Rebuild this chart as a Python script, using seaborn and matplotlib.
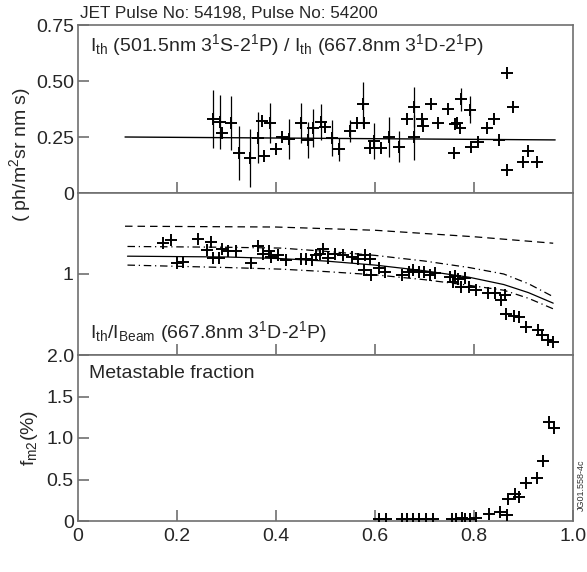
import matplotlib
matplotlib.use("Agg")
import matplotlib.pyplot as plt
import seaborn as sns
import numpy as np

# ---- dados ----
# painel superior: razao de intensidades
razao_x = [0.272, 0.287, 0.291, 0.309, 0.325, 0.347, 0.363, 0.371, 0.376, 0.388,
           0.399, 0.412, 0.427, 0.450, 0.465, 0.475, 0.490, 0.499, 0.514, 0.528,
           0.549, 0.563, 0.575, 0.578, 0.590, 0.598, 0.613, 0.629, 0.649, 0.665,
           0.679, 0.679, 0.694, 0.696, 0.714, 0.728, 0.748, 0.760, 0.762, 0.765,
           0.773, 0.772, 0.792, 0.793, 0.809, 0.827, 0.840, 0.851, 0.866, 0.867,
           0.878, 0.898, 0.910, 0.927]
razao_y = [0.330, 0.318, 0.269, 0.314, 0.180, 0.155, 0.247, 0.323, 0.165, 0.311,
           0.195, 0.251, 0.241, 0.314, 0.237, 0.289, 0.318, 0.293, 0.244, 0.195,
           0.278, 0.311, 0.397, 0.311, 0.199, 0.232, 0.199, 0.249, 0.207, 0.329,
           0.385, 0.249, 0.329, 0.299, 0.397, 0.314, 0.374, 0.180, 0.308, 0.311,
           0.418, 0.289, 0.371, 0.207, 0.229, 0.289, 0.329, 0.237, 0.103, 0.534,
           0.383, 0.140, 0.188, 0.140]
razao_err = [0.13, 0.12, 0.0, 0.12, 0.12, 0.13, 0.115, 0.0, 0.0, 0.09,
             0.0, 0.0, 0.09, 0.09, 0.08, 0.085, 0.08, 0.0, 0.08, 0.05,
             0.05, 0.0, 0.10, 0.0, 0.0, 0.08, 0.0, 0.09, 0.07, 0.0,
             0.09, 0.10, 0.0, 0.0, 0.0, 0.0, 0.0, 0.0, 0.0, 0.0,
             0.05, 0.0, 0.06, 0.0, 0.0, 0.0, 0.0, 0.0, 0.0, 0.0,
             0.0, 0.0, 0.0, 0.0]
ajuste_x = [0.095, 0.964]
ajuste_y = [0.250, 0.237]

# painel do meio: I_th / I_Beam
beam_x = [0.171, 0.187, 0.199, 0.213, 0.243, 0.260, 0.269, 0.273, 0.285, 0.290,
          0.304, 0.319, 0.349, 0.364, 0.374, 0.386, 0.389, 0.405, 0.421, 0.450,
          0.461, 0.472, 0.481, 0.489, 0.494, 0.506, 0.519, 0.536, 0.553, 0.566,
          0.577, 0.580, 0.590, 0.591, 0.609, 0.620, 0.654, 0.669, 0.677, 0.688,
          0.698, 0.711, 0.721, 0.752, 0.758, 0.762, 0.768, 0.773, 0.782, 0.789,
          0.804, 0.829, 0.842, 0.854, 0.863, 0.865, 0.880, 0.890, 0.906, 0.930,
          0.937, 0.950, 0.959]
beam_y = [1.38, 1.42, 1.14, 1.15, 1.43, 1.30, 1.40, 1.20, 1.20, 1.31,
          1.28, 1.28, 1.14, 1.35, 1.25, 1.28, 1.21, 1.23, 1.17, 1.19,
          1.19, 1.17, 1.23, 1.25, 1.31, 1.20, 1.25, 1.24, 1.21, 1.19,
          1.05, 1.23, 1.19, 0.99, 1.07, 1.03, 0.99, 1.03, 1.05, 1.03,
          1.03, 0.99, 1.01, 0.96, 0.90, 0.97, 0.94, 0.84, 0.95, 0.84,
          0.80, 0.76, 0.76, 0.68, 0.74, 0.51, 0.48, 0.47, 0.35, 0.31,
          0.25, 0.19, 0.16]
modelo_x = [0.10, 0.30, 0.41, 0.50, 0.60, 0.70, 0.79, 0.86, 0.91, 0.96]
modelo_y = [1.22, 1.21, 1.19, 1.16, 1.11, 1.04, 0.96, 0.87, 0.77, 0.64]
modelo_sup = [1.34, 1.33, 1.32, 1.28, 1.23, 1.16, 1.08, 1.00, 0.88, 0.72]
modelo_inf = [1.11, 1.08, 1.06, 1.03, 0.99, 0.93, 0.86, 0.80, 0.70, 0.57]
tracejado_x = [0.095, 0.40, 0.60, 0.80, 0.96]
tracejado_y = [1.59, 1.58, 1.54, 1.46, 1.38]

# painel inferior: fracao metaestavel
meta_x = [0.609, 0.622, 0.654, 0.664, 0.677, 0.689, 0.704, 0.718, 0.755, 0.764,
          0.775, 0.782, 0.792, 0.805, 0.831, 0.853, 0.866, 0.869, 0.883, 0.891,
          0.905, 0.928, 0.940, 0.952, 0.962]
meta_y = [0.03, 0.02, 0.03, 0.02, 0.03, 0.02, 0.02, 0.02, 0.02, 0.03,
          0.04, 0.03, 0.03, 0.04, 0.09, 0.11, 0.07, 0.26, 0.33, 0.29,
          0.46, 0.52, 0.72, 1.19, 1.12]

sns.set_style("ticks")
plt.rcParams['font.family'] = ['Liberation Sans', 'DejaVu Sans']
plt.rcParams['mathtext.fontset'] = 'custom'
plt.rcParams['mathtext.rm'] = 'Liberation Sans'
plt.rcParams['mathtext.it'] = 'Liberation Sans:italic'

cinza = '#707070'
fig = plt.figure(figsize=(5.87, 5.72), dpi=100)
W, H = 587, 572
esq, dir_ = 78, 573

def eixo(topo, base):
    return fig.add_axes([esq / W, 1 - base / H, (dir_ - esq) / W, (base - topo) / H])

ax1 = eixo(25, 193)
ax2 = eixo(193, 355)
ax3 = eixo(355, 521)

for ax in (ax1, ax2, ax3):
    ax.set_xlim(0, 1.0)
    for s in ax.spines.values():
        s.set_color(cinza)
        s.set_linewidth(1.2)
    ax.tick_params(direction='in', length=8, width=1.2, color=cinza,
                   labelsize=14, top=False, right=False)
    ax.tick_params(axis='y', pad=3)
    ax.tick_params(axis='x', pad=5, labelbottom=False)
    ax.set_xticks([0.2, 0.4, 0.6, 0.8])

cross = dict(marker='+', s=70, color='black', linewidth=1.4, legend=False, zorder=3)

# topo
ax1.vlines(razao_x, np.array(razao_y) - np.array(razao_err),
           np.array(razao_y) + np.array(razao_err), color='black', lw=0.9)
sns.scatterplot(x=razao_x, y=razao_y, ax=ax1, **cross)
sns.lineplot(x=ajuste_x, y=ajuste_y, ax=ax1, color='black', lw=1.0)
ax1.set_ylim(0, 0.75)
ax1.set_yticks([0, 0.25, 0.5, 0.75])
ax1.set_yticklabels(['0', '0.25', '0.50', '0.75'])
ax1.text(0.025, 0.88, r'I$_{\rm th}$ (501.5nm 3$^{\rm 1}$S-2$^{\rm 1}$P) / I$_{\rm th}$ (667.8nm 3$^{\rm 1}$D-2$^{\rm 1}$P)',
         transform=ax1.transAxes, fontsize=14, va='center', ha='left')

# meio
sns.lineplot(x=tracejado_x, y=tracejado_y, ax=ax2, color='black', lw=0.9, linestyle=(0, (6, 4)))
sns.lineplot(x=modelo_x, y=modelo_y, ax=ax2, color='black', lw=0.9)
sns.lineplot(x=modelo_x, y=modelo_sup, ax=ax2, color='black', lw=0.9, linestyle=(0, (6, 3, 1, 3)))
sns.lineplot(x=modelo_x, y=modelo_inf, ax=ax2, color='black', lw=0.9, linestyle=(0, (6, 3, 1, 3)))
sns.scatterplot(x=beam_x, y=beam_y, ax=ax2, **cross)
ax2.set_ylim(0, 2.0)
ax2.set_yticks([1])
ax2.set_yticklabels(['1'])
ax2.text(0.025, 0.14, r'I$_{\rm th}$/I$_{\rm Beam}$ (667.8nm 3$^{\rm 1}$D-2$^{\rm 1}$P)',
         transform=ax2.transAxes, fontsize=14, va='center', ha='left')

# base
sns.scatterplot(x=meta_x, y=meta_y, ax=ax3, **cross)
ax3.set_ylim(0, 2.0)
ax3.set_yticks([0, 0.5, 1.0, 1.5, 2.0])
ax3.set_yticklabels(['0', '0.5', '1.0', '1.5', '2.0'])
ax3.set_xticks([0, 0.2, 0.4, 0.6, 0.8, 1.0])
ax3.set_xticklabels(['0', '0.2', '0.4', '0.6', '0.8', '1.0'])
ax3.tick_params(axis='x', labelbottom=True)
ax3.text(0.022, 0.89, 'Metastable fraction', transform=ax3.transAxes,
         fontsize=14, va='center', ha='left')
ax3.set_xlabel(r'ψ$^{\rm \ 1/2}$', fontsize=14, labelpad=0)
ax3.set_ylabel(r'f$_{\rm m2}$(%)', fontsize=14, labelpad=5)

fig.text(80 / W, 1 - 13 / H, 'JET Pulse No: 54198, Pulse No: 54200',
         fontsize=12.3, ha='left', va='center')
fig.text(20 / W, 1 - 155 / H, r'( ph/m$^{\rm 2}$sr nm s)', rotation=90,
         fontsize=14, ha='center', va='center')
fig.text(581 / W, 1 - 485 / H, 'JG01.558-4c', rotation=90, fontsize=6.5,
         ha='center', va='center', color='#333333')

fig.savefig('out.png', dpi=100)
